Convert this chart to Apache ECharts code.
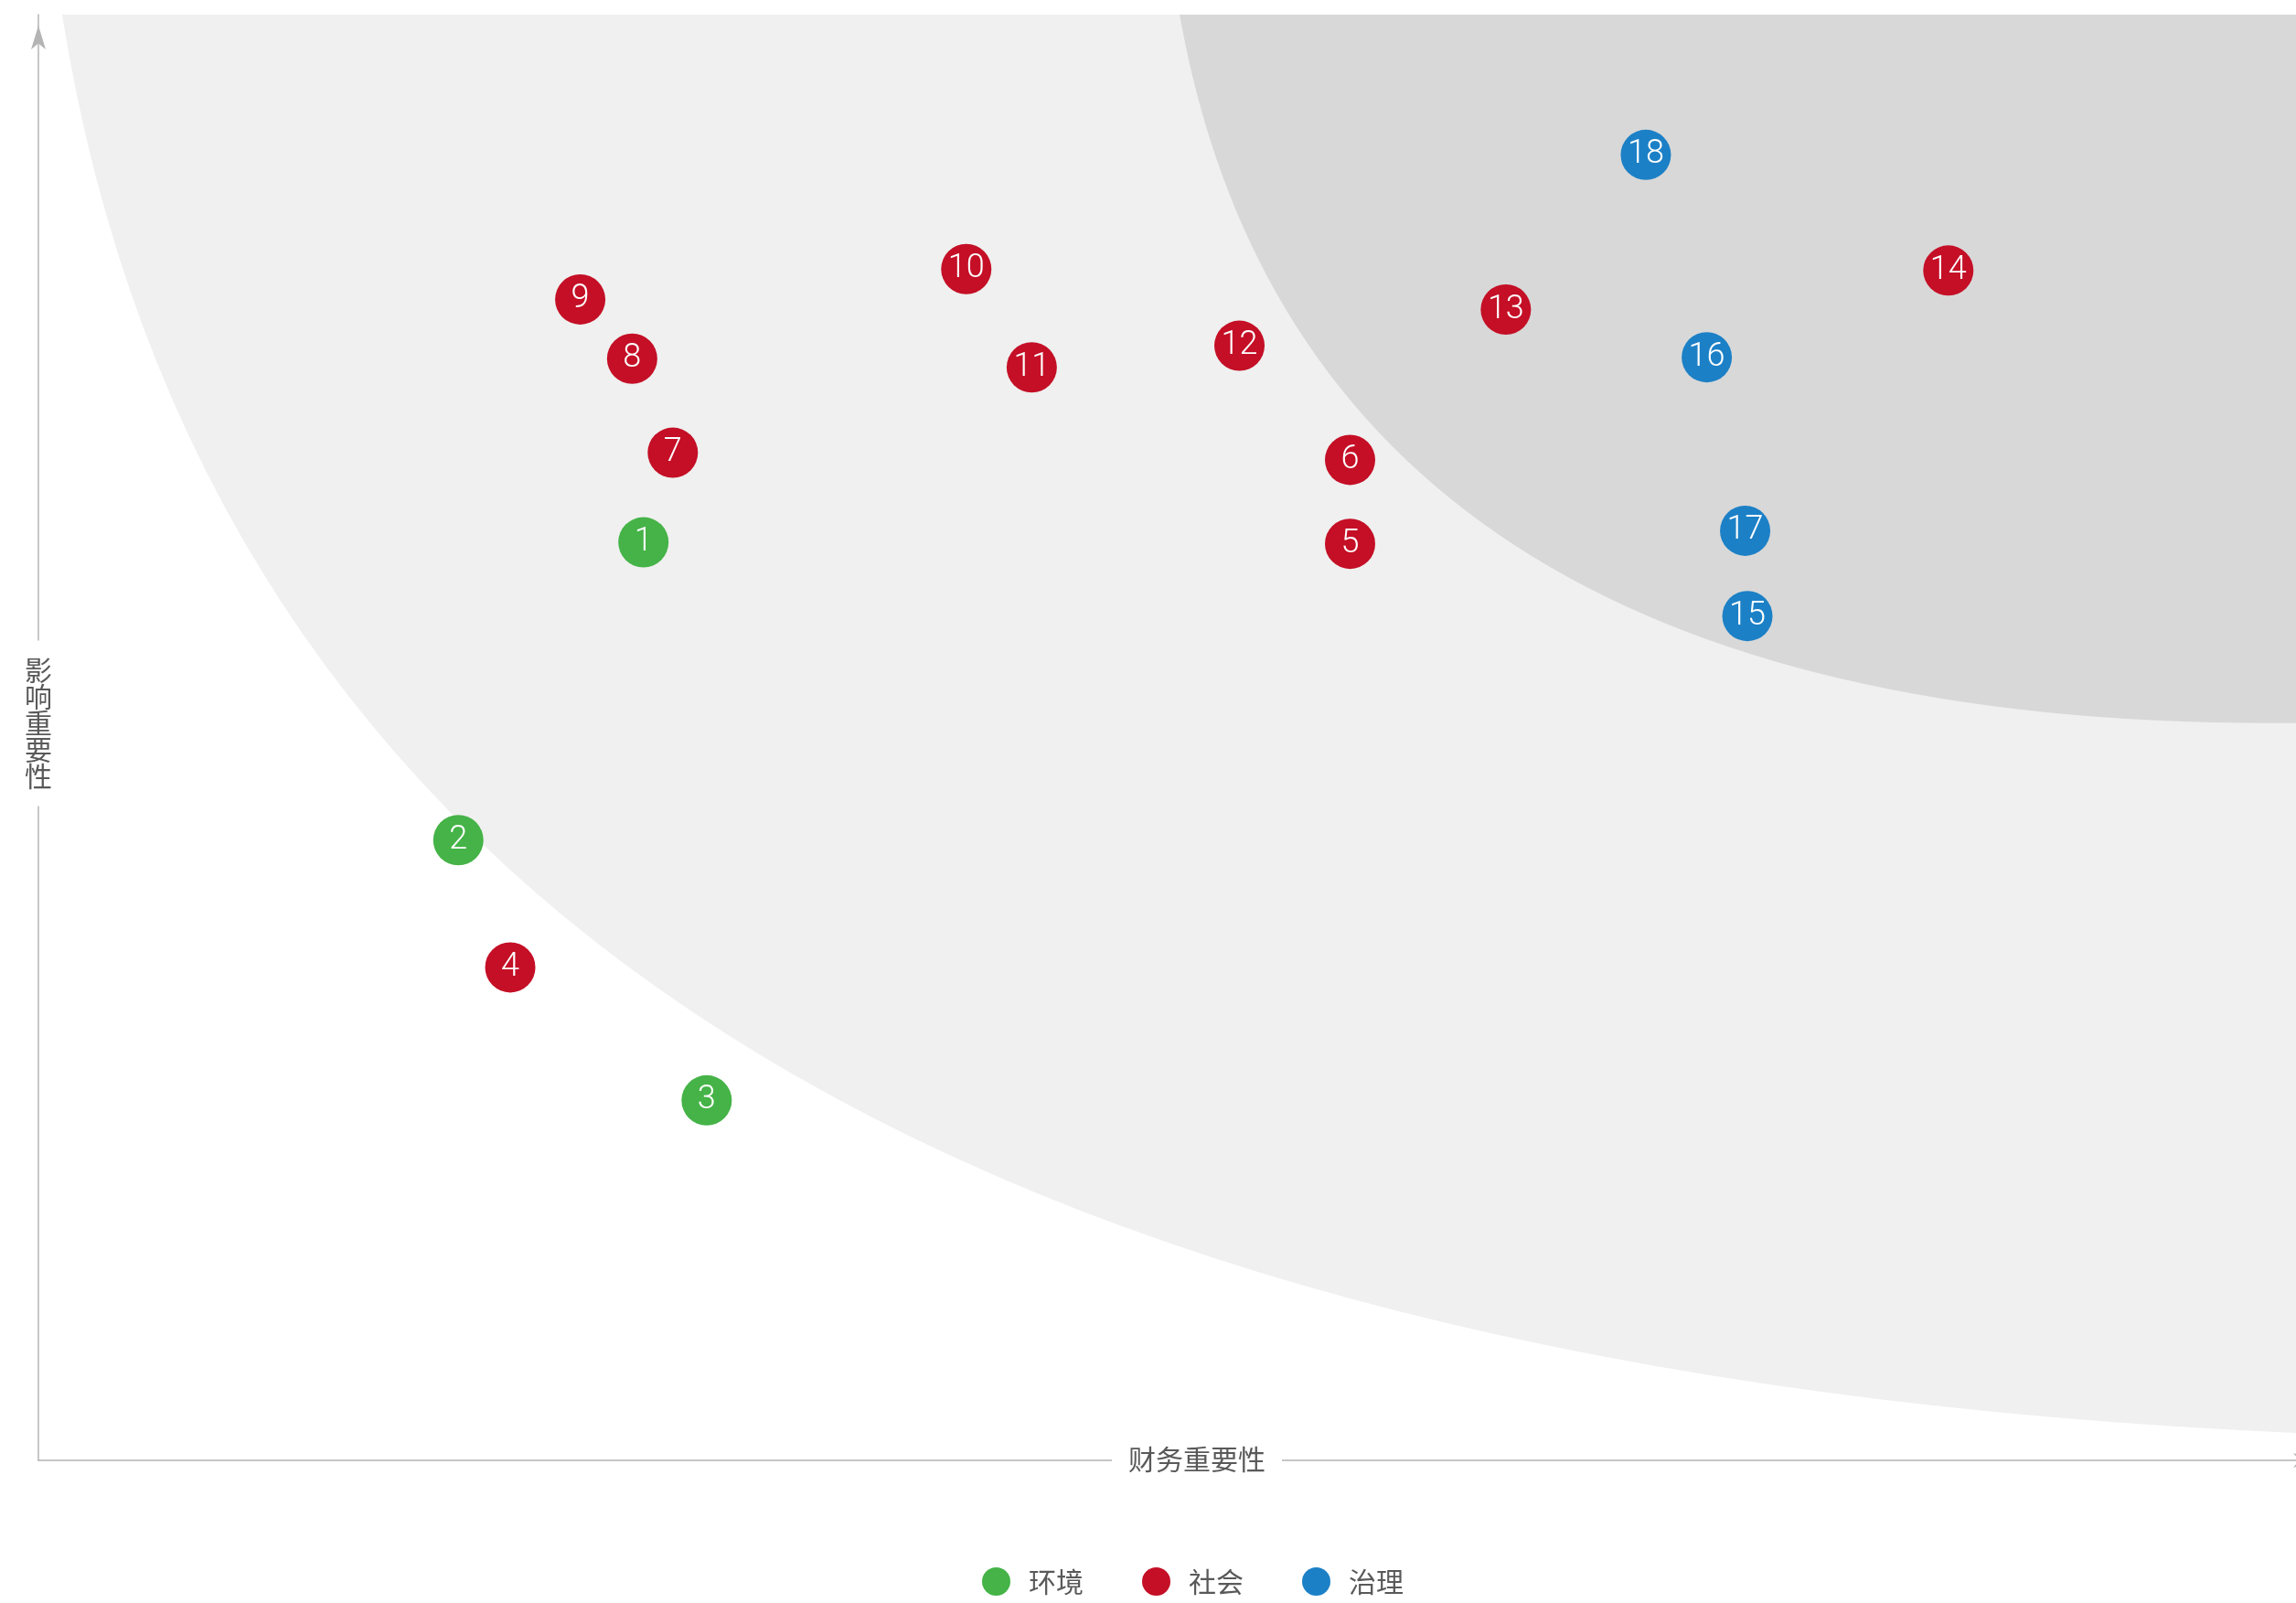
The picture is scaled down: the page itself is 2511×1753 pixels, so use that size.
<!DOCTYPE html>
<html>
<head>
<meta charset="utf-8">
<script src="https://cdn.jsdelivr.net/npm/echarts@6/dist/echarts.min.js"></script>
<style>
  html, body { margin: 0; padding: 0; background: #fff; }
  #chart { width: 2511px; height: 1753px; }
</style>
</head>
<body>
<div id="chart"></div>
<script>
// topic ids, groups and positions (financial materiality x, impact materiality y)
const ids = [1, 2, 3, 4, 5, 6, 7, 8, 9, 10, 11, 12, 13, 14, 15, 16, 17, 18];
const groupOf = ['环境', '环境', '环境', '社会', '社会', '社会', '社会', '社会', '社会',
  '社会', '社会', '社会', '社会', '社会', '治理', '治理', '治理', '治理'];
const financial = [26.8, 18.6, 29.6, 20.9, 58.1, 58.1, 28.1, 26.3, 24.0,
  41.1, 44.0, 53.2, 65.0, 84.6, 75.7, 73.9, 75.6, 71.2];
const impact = [63.5, 42.9, 24.9, 34.1, 63.4, 69.2, 69.7, 76.2, 80.3,
  82.4, 75.6, 77.1, 79.6, 82.3, 58.4, 76.3, 64.3, 90.3];

const groups = ['环境', '社会', '治理'];
const groupColors = ['#45b347', '#c40f26', '#1c80c6'];

// background zones: quadratic curve [start, control, end] in axis units
const lightZone = [[1.05, 100], [10.45, 8.0], [100, 1.9]];
const darkZone = [[50.55, 100], [56.2, 50.4], [100, 51.0]];

const textColor = '#595959';
const cjk = '"Noto Sans CJK SC", "Noto Sans", sans-serif';

const chart = echarts.init(document.getElementById('chart'));

function zoneSeries(zone, color) {
  return {
    type: 'custom',
    silent: true,
    z: 1,
    data: [[0, 0]],
    renderItem: function (params, api) {
      const p = zone.map(pt => api.coord(pt));
      const corner = api.coord([100, 100]);
      const d = `M${p[0][0]},${p[0][1]} Q${p[1][0]},${p[1][1]} ${p[2][0]},${p[2][1]} ` +
        `L${corner[0]},${corner[1]} Z`;
      return { type: 'path', shape: { pathData: d }, style: { fill: color } };
    }
  };
}

const scatterSeries = groups.map((g, gi) => ({
  name: g,
  type: 'scatter',
  z: 5,
  symbol: 'circle',
  symbolSize: 55,
  itemStyle: { color: groupColors[gi], opacity: 1 },
  label: {
    show: true,
    position: 'inside',
    color: '#fff',
    fontSize: 36,
    fontWeight: 300,
    fontFamily: 'Roboto, "Liberation Sans", sans-serif',
    formatter: p => p.value[2]
  },
  data: ids
    .map((id, i) => [financial[i], impact[i], id, groupOf[i]])
    .filter(d => d[3] === g)
    .map(d => [d[0], d[1], d[2]])
}));

function axisLine(endOffset) {
  return {
    show: true,
    symbol: ['none', 'arrow'],
    symbolSize: [12, 26],
    symbolOffset: [0, endOffset],
    lineStyle: { color: '#b4b4b4', width: 1.5 }
  };
}

const option = {
  backgroundColor: '#fff',
  animation: false,
  grid: { left: 42, right: 0, top: 16, bottom: 156 },
  xAxis: {
    type: 'value', min: 0, max: 100,
    axisLine: axisLine(23),
    axisTick: { show: false }, axisLabel: { show: false }, splitLine: { show: false }
  },
  yAxis: {
    type: 'value', min: 0, max: 100,
    axisLine: axisLine(-12),
    axisTick: { show: false }, axisLabel: { show: false }, splitLine: { show: false }
  },
  legend: {
    data: groups,
    icon: 'circle',
    left: 1069,
    top: 1709,
    itemWidth: 61,
    itemHeight: 31,
    itemGap: 64,
    selectedMode: false,
    textStyle: { color: textColor, fontSize: 30, fontFamily: cjk }
  },
  graphic: [
    {
      type: 'text', z: 100, x: 1309, y: 1596,
      style: {
        text: '财务重要性', align: 'center', verticalAlign: 'middle',
        fill: textColor, font: '30px ' + cjk,
        backgroundColor: '#fff', padding: [4, 18]
      }
    },
    {
      type: 'text', z: 100, x: 42, y: 791,
      style: {
        text: '影\n响\n重\n要\n性', align: 'center', verticalAlign: 'middle',
        fill: textColor, font: '30px ' + cjk, lineHeight: 29,
        backgroundColor: '#fff', padding: [18, 6]
      }
    }
  ],
  series: [
    zoneSeries(lightZone, '#eff0ef'),
    zoneSeries(darkZone, '#d8d8d8'),
    ...scatterSeries
  ]
};

chart.setOption(option);
</script>
</body>
</html>
